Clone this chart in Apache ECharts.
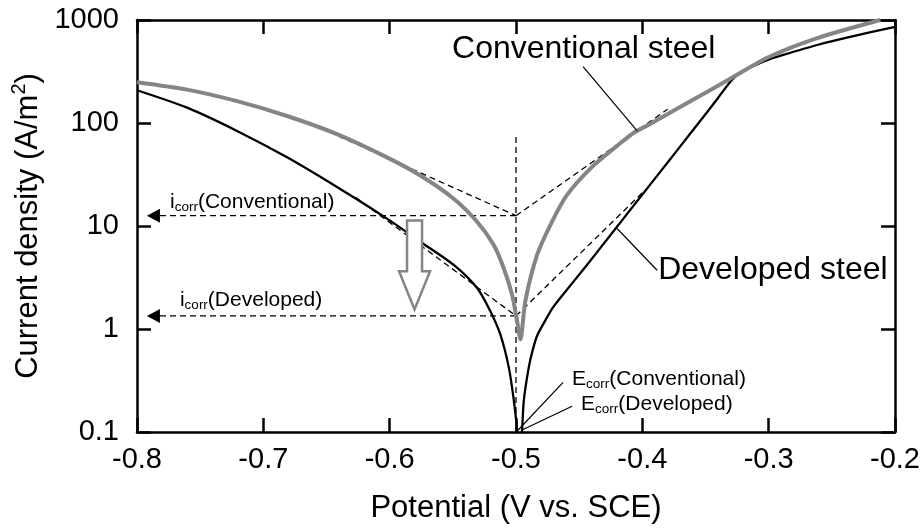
<!DOCTYPE html>
<html><head><meta charset="utf-8">
<script src="https://cdn.jsdelivr.net/npm/echarts@6/dist/echarts.min.js"></script>
<style>html,body{margin:0;padding:0;background:#fff;overflow:hidden;width:923px;height:529px}#c{width:923px;height:529px}</style>
</head><body><div id="c"></div>
<script>
// ---- data ----
const xTicks = [-0.8, -0.7, -0.6, -0.5, -0.4, -0.3, -0.2];
const yTicks = [0.1, 1, 10, 100, 1000];

const convPotential = [-0.800, -0.7604, -0.7208, -0.6812, -0.6417, -0.6021, -0.5757, -0.5493, -0.5308, -0.5176, -0.5097, -0.5031, -0.4991, -0.4965, -0.4926, -0.4833, -0.473, -0.460, -0.439, -0.420, -0.407, -0.3938, -0.3542, -0.3281, -0.3012, -0.2616, -0.2117];
const convCurrent   = [249, 211, 163, 117, 78, 46.4, 30.9, 18.4, 11.0, 6.53, 3.89, 2.15, 1.19, 0.79, 1.87, 5.23, 10.1, 19.7, 38.3, 60, 80, 98, 184, 279, 430, 667, 1000];

const devPotential = [-0.800, -0.7604, -0.7208, -0.6812, -0.6417, -0.6021, -0.5757, -0.5493, -0.5308, -0.5203, -0.5124, -0.5057, -0.5017, -0.4991, -0.4972, -0.4952, -0.4938, -0.4899, -0.487, -0.4833, -0.478, -0.471, -0.465, -0.444, -0.423, -0.402, -0.380, -0.360, -0.341, -0.3281, -0.3147, -0.3012, -0.2885, -0.2616, -0.2355, -0.200];
const devCurrent   = [208, 141, 83.8, 46.4, 23.9, 11.8, 7.04, 4.19, 2.50, 1.49, 0.885, 0.424, 0.202, 0.104, 0.05, 0.104, 0.203, 0.424, 0.61, 0.86, 1.14, 1.6, 2.0, 4.16, 8.85, 18.8, 41.4, 84.9, 169, 270, 345, 408, 458, 572, 686, 857];

const ecorr = -0.5;
const icorrConv = 12.6;
const icorrDev = 1.34;
const tafelConvCathodic = [[-0.655, 89.6], [ecorr, icorrConv]];
const tafelConvAnodic   = [[ecorr, icorrConv], [-0.38, 136]];
const tafelDevCathodic  = [[-0.627, 19], [ecorr, icorrDev]];
const tafelDevAnodic    = [[ecorr, icorrDev], [-0.40, 21]];
const ecorrLine = [[ecorr, 73], [ecorr, 0.1]];
const arrowEndX = -0.787;

// ---- chart ----
const FONT = '"Liberation Sans", Arial, Helvetica, sans-serif';
const zip = (xs, ys) => xs.map((x, i) => [x, ys[i]]);
const dash = { color: '#000', width: 1.3, type: [6, 4] };
const gray = '#858585';

function dashSeries(data) {
  return { type: 'line', data: data, symbol: 'none', lineStyle: dash, z: 2, silent: true, animation: false };
}
function icorrSeries(y) {
  return {
    type: 'line', symbol: 'none', showSymbol: true, lineStyle: dash, z: 2, animation: false,
    itemStyle: { color: '#000' },
    data: [[ecorr, y], { value: [arrowEndX, y], symbol: 'triangle', symbolSize: [14, 13], symbolRotate: 90 }]
  };
}

const axisLineStyle = { color: '#000', width: 2.5 };
const chart = echarts.init(document.getElementById('c'), null, { renderer: 'canvas' });
const option = {
  animation: false,
  backgroundColor: '#fff',
  grid: { left: 137, right: 28, top: 20, bottom: 94, containLabel: false },
  xAxis: [{
    type: 'value', min: xTicks[0], max: xTicks[xTicks.length - 1], interval: 0.1, position: 'bottom',
    axisLine: { lineStyle: axisLineStyle }, axisTick: { inside: true, length: 14, lineStyle: { width: 2.5 } },
    axisLabel: { fontSize: 29, color: '#000', fontFamily: FONT, margin: 13, formatter: v => v.toFixed(1) },
    splitLine: { show: false },
    name: 'Potential (V vs. SCE)', nameLocation: 'middle', nameGap: 61,
    nameTextStyle: { fontSize: 31, color: '#000', fontFamily: FONT }
  }, {
    type: 'value', min: xTicks[0], max: xTicks[xTicks.length - 1], interval: 0.1, position: 'top',
    axisLine: { lineStyle: axisLineStyle }, axisTick: { inside: true, length: 14, lineStyle: { width: 2.5 } },
    axisLabel: { show: false }, splitLine: { show: false }
  }],
  yAxis: [{
    type: 'log', logBase: 10, min: yTicks[0], max: yTicks[yTicks.length - 1], splitNumber: 4,
    axisLine: { lineStyle: axisLineStyle }, axisTick: { inside: true, length: 14, lineStyle: { width: 2.5 } },
    axisLabel: { fontSize: 29, color: '#000', fontFamily: FONT, margin: 18, formatter: v => String(+(+v).toPrecision(3)) },
    minorTick: { show: false }, splitLine: { show: false },
    name: 'Current density (A/m{sup|2})', nameLocation: 'middle', nameGap: 76,
    nameTextStyle: { fontSize: 31, color: '#000', fontFamily: FONT,
      rich: { sup: { fontSize: 20, color: '#000', fontFamily: FONT, padding: [0, 0, 18, 0] } } }
  }, {
    type: 'log', logBase: 10, min: yTicks[0], max: yTicks[yTicks.length - 1], splitNumber: 4, position: 'right',
    axisLine: { lineStyle: axisLineStyle }, axisTick: { inside: true, length: 14, lineStyle: { width: 2.5 } },
    axisLabel: { show: false }, splitLine: { show: false }
  }],
  series: [
    dashSeries(tafelConvCathodic), dashSeries(tafelConvAnodic),
    dashSeries(tafelDevCathodic), dashSeries(tafelDevAnodic),
    dashSeries(ecorrLine),
    icorrSeries(icorrConv), icorrSeries(icorrDev),
    { name: 'Developed steel', type: 'line', data: zip(devPotential, devCurrent), symbol: 'none', smooth: 0.25,
      lineStyle: { color: '#000', width: 2.3 }, z: 3 },
    { name: 'Conventional steel', type: 'line', data: zip(convPotential, convCurrent), symbol: 'none', smooth: 0.25,
      lineStyle: { color: gray, width: 4 }, z: 4 }
  ]
};
chart.setOption(option);

// ---- annotations positioned in data coordinates ----
const P = (x, y) => chart.convertToPixel({ xAxisIndex: 0, yAxisIndex: 0 }, [x, y]);
function leader(a, b) {
  const p = P(a[0], a[1]), q = P(b[0], b[1]);
  return { type: 'line', shape: { x1: p[0], y1: p[1], x2: q[0], y2: q[1] }, style: { stroke: '#000', lineWidth: 1.2 }, z: 10 };
}
function label(pos, text, size, rich) {
  const p = P(pos[0], pos[1]);
  return { type: 'text', x: p[0], y: p[1], z: 10,
    style: { text: text, fill: '#000', font: size + 'px ' + FONT, fontSize: size, fontFamily: FONT, align: 'left', verticalAlign: 'middle', rich: rich } };
}
const subRich = {
  m: { fontSize: 21, fontFamily: FONT, fill: '#000' },
  s: { fontSize: 13.5, fontFamily: FONT, fill: '#000', padding: [10, 0, 0, 0] }
};
// hollow gray arrow
const aTop = P(-0.5803, 11.3), aSh = P(-0.5803, 3.64), aTip = P(-0.5803, 1.55);
const cx = aTop[0], sw = 7.5, hw = 15.5;
const arrowPts = [[cx - sw, aTop[1]], [cx + sw, aTop[1]], [cx + sw, aSh[1]], [cx + hw, aSh[1]], [cx, aTip[1]], [cx - hw, aSh[1]], [cx - sw, aSh[1]]];

chart.setOption({ graphic: [
  label([-0.5506, 525], 'Conventional steel', 32),
  leader([-0.4469, 352], [-0.4041, 84]),
  label([-0.3875, 3.72], 'Developed steel', 32),
  leader([-0.42, 9.46], [-0.3883, 3.72]),
  label([-0.7739, 17.0], '{m|i}{s|corr}{m|(Conventional)}', 21, subRich),
  label([-0.7660, 1.92], '{m|i}{s|corr}{m|(Developed)}', 21, subRich),
  label([-0.4556, 0.324], '{m|E}{s|corr}{m|(Conventional)}', 21, subRich),
  label([-0.4485, 0.186], '{m|E}{s|corr}{m|(Developed)}', 21, subRich),
  leader([-0.4627, 0.303], [-0.4983, 0.1046]),
  leader([-0.4556, 0.178], [-0.4952, 0.1046]),
  { type: 'polygon', shape: { points: arrowPts }, style: { fill: '#fff', stroke: gray, lineWidth: 2.5 }, z: 9 }
]});
</script></body></html>
